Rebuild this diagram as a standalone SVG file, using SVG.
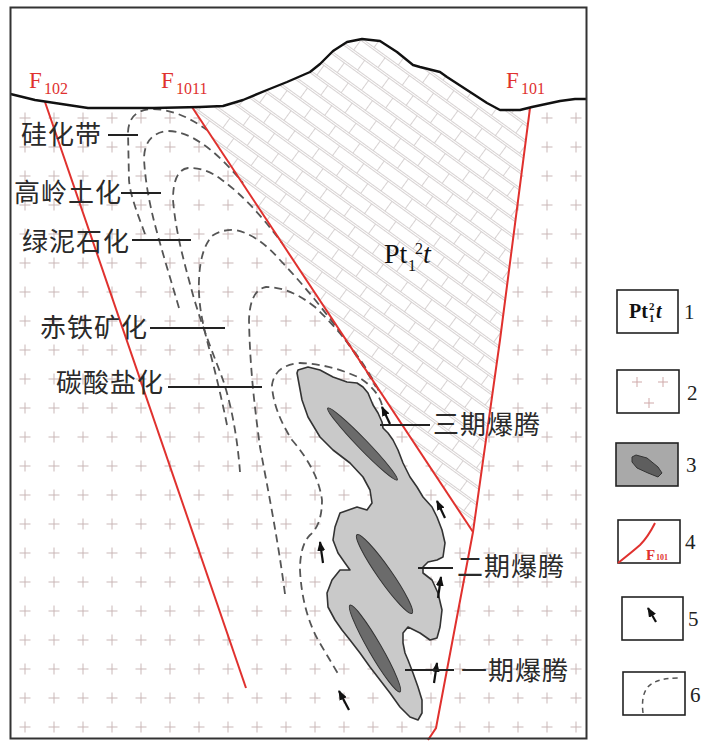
<svg xmlns="http://www.w3.org/2000/svg" width="716" height="744" viewBox="0 0 716 744">
<style>
.dash{fill:none;stroke:#555;stroke-width:1.8;stroke-dasharray:8 5}
.fault{fill:none;stroke:#e0312e;stroke-width:2}
.lead{stroke:#222;stroke-width:2}
.cn{font-family:"Noto Sans CJK SC","Noto Sans",sans-serif;font-size:26px;fill:#2a2a2a;letter-spacing:1px}
.fl{font-family:"Liberation Serif",serif;fill:#e0312e}
.box{fill:#fff;stroke:#222;stroke-width:1.6}
.num{font-family:"Liberation Serif",serif;font-size:21px;fill:#222}
.arr{stroke:#111;stroke-width:2.2;fill:none;marker-end:url(#ah)}
</style>
<defs>
<pattern id="cross" patternUnits="userSpaceOnUse" x="10.5" y="103.5" width="29" height="29">
<path d="M9,14.5H20M14.5,9V20" stroke="#c9b6b6" stroke-width="1"/>
</pattern>
<pattern id="brick" patternUnits="userSpaceOnUse" width="30" height="28" patternTransform="rotate(36)">
<path d="M0,0.5H30M0,2.5H30M0,14.5H30M0,16.5H30M0.5,2.5V14.5M15.5,16.5V28" stroke="#cdc7c7" stroke-width="0.8" fill="none"/>
</pattern>
<marker id="ah" viewBox="0 0 10 8" refX="9" refY="4" markerWidth="10" markerHeight="8" markerUnits="userSpaceOnUse" orient="auto">
<path d="M0,0L10,4L0,8Z" fill="#111"/>
</marker>
</defs>
<rect x="0" y="0" width="716" height="744" fill="#fff"/>

<g id="background">
<path d="M10.5,94L35,100L88,108L154,108L200,107L223,106L243,100L267,90L287,82L310,72L320,64L333,51L347,42L362,39L380,41L397,52L413,65L420,67L440,72L447,77L467,90L487,103L500,110L520,110L532,107L560,101L575,99L587,99L587,739L10.5,739Z" fill="url(#cross)"/>
</g>

<g id="pt-unit">
<path d="M192,107L200,107L223,106L243,100L267,90L287,82L310,72L320,64L333,51L347,42L362,39L380,41L397,52L413,65L420,67L440,72L447,77L467,90L487,103L500,110L520,110L530,108L500,340L473,532Z" fill="#fff"/>
<path d="M192,107L200,107L223,106L243,100L267,90L287,82L310,72L320,64L333,51L347,42L362,39L380,41L397,52L413,65L420,67L440,72L447,77L467,90L487,103L500,110L520,110L530,108L500,340L473,532Z" fill="url(#brick)"/>
<text x="384" y="263" font-family="Liberation Serif,serif" font-size="28" fill="#111">Pt</text>
<text x="408" y="271" font-family="Liberation Serif,serif" font-size="16" fill="#111">1</text>
<text x="415" y="254" font-family="Liberation Serif,serif" font-size="16" fill="#111">2</text>
<text x="423" y="263" font-family="Liberation Serif,serif" font-size="28" font-style="italic" fill="#111">t</text>
</g>

<g id="alteration-zones">
<path class="dash" d="M145,234C138,215 130,195 129,180L128,132Q129,110 152,109Q178,109 207,130"/>
<path class="dash" d="M179,308C170,277 160,245 153,217C149,200 145,180 144,158Q145,133 168,131Q200,131 243,183"/>
<path class="dash" d="M240,472C238,445 233,410 223,380C215,358 203,330 193,295C185,265 176,235 173,200Q173,170 188,168Q205,167 222,180Q250,200 282,243"/>
<path class="dash" d="M227,425C222,400 216,375 209,348C203,325 198,305 199,280Q200,250 212,236Q222,229 236,230Q258,235 280,260Q335,318 376,387"/>
<path class="dash" d="M285,594C278,540 268,490 260,447C255,410 250,370 249,320Q250,290 266,287Q290,287 315,307Q355,345 379,391"/>
<path class="dash" d="M382,405Q378,390 360,378Q330,364 300,363Q275,365 272,385Q273,410 292,440Q318,470 322,500Q322,525 310,535Q300,545 300,570Q302,610 318,640L340,677"/>
</g>

<g id="faults">
<path class="fault" d="M45,102L246,688"/>
<path class="fault" d="M192,107L473,532"/>
<path class="fault" d="M530,108L500,340L473,532L436,728L428,740"/>
<text class="fl" x="29" y="88" font-size="23">F</text>
<text class="fl" x="44" y="94" font-size="16">102</text>
<text class="fl" x="161" y="88" font-size="23">F</text>
<text class="fl" x="176" y="94" font-size="16">1011</text>
<text class="fl" x="506" y="88" font-size="23">F</text>
<text class="fl" x="521" y="94" font-size="16">101</text>
</g>

<g id="breccia-body">
<path d="M297,373L298,370L308,367L320,370L333,377L347,382L357,383L363,387L368,393L373,405L378,413L382,422L383,428L388,433L393,440L398,450L403,463L410,477L417,487L423,497L432,507L437,517L442,530L445,543L443,557L437,560L428,562L423,567L423,573L432,580L438,593L442,610L440,627L437,638L430,640L420,633L408,627L403,633L403,643L405,653L408,660L413,673L418,687L422,700L422,713L418,720L410,717L400,707L390,693L380,680L370,667L360,653L350,640L342,630L335,620L328,607L327,593L332,580L340,570L350,570L345,563L338,553L333,540L335,527L340,513L357,507L367,510L372,503L370,490L363,477L350,463L333,450L320,437L308,417L302,400Z" fill="#c9c9c9" stroke="#333" stroke-width="1.6" stroke-linejoin="round"/>
<ellipse cx="362.5" cy="444" rx="50" ry="5" transform="rotate(46 362.5 444)" fill="#6b6b6b" stroke="#333" stroke-width="1"/>
<ellipse cx="384.5" cy="574" rx="48" ry="7" transform="rotate(55 384.5 574)" fill="#6b6b6b" stroke="#333" stroke-width="1"/>
<ellipse cx="375" cy="648.5" rx="50" ry="6.5" transform="rotate(60 375 648.5)" fill="#6b6b6b" stroke="#333" stroke-width="1"/>
</g>

<g id="flow-arrows">
<path class="arr" d="M390,424L382,407"/>
<path class="arr" d="M445,518L437,501"/>
<path class="arr" d="M323,563L320,542"/>
<path class="arr" d="M438,598L441,577"/>
<path class="arr" d="M434,683L437,663"/>
<path class="arr" d="M349,710L339,691"/>
</g>

<g id="labels">
<line class="lead" x1="108" y1="135" x2="138" y2="135"/>
<line class="lead" x1="121" y1="193" x2="161" y2="193"/>
<line class="lead" x1="132" y1="240" x2="191" y2="240"/>
<line class="lead" x1="150" y1="328" x2="225" y2="328"/>
<line class="lead" x1="168" y1="387" x2="262" y2="387"/>
<line class="lead" x1="380" y1="425" x2="430" y2="425"/>
<line class="lead" x1="418" y1="568" x2="453" y2="568"/>
<line class="lead" x1="405" y1="670" x2="454" y2="670"/>
<text class="cn" x="21" y="144">硅化带</text>
<text class="cn" x="14" y="202">高岭土化</text>
<text class="cn" x="22" y="251">绿泥石化</text>
<text class="cn" x="40" y="337">赤铁矿化</text>
<text class="cn" x="56" y="392">碳酸盐化</text>
<text class="cn" x="433" y="434">三期爆腾</text>
<text class="cn" x="457" y="576">二期爆腾</text>
<text class="cn" x="461" y="680">一期爆腾</text>
</g>

<g id="surface">
<path d="M10.5,94L35,100L88,108L154,108L200,107L223,106L243,100L267,90L287,82L310,72L320,64L333,51L347,42L362,39L380,41L397,52L413,65L420,67L440,72L447,77L467,90L487,103L500,110L520,110L532,107L560,101L575,99L587,99" fill="none" stroke="#111" stroke-width="2.4" stroke-linejoin="round"/>
</g>

<rect id="frame" x="10.5" y="7.5" width="576" height="731" fill="none" stroke="#333" stroke-width="2"/>

<g id="legend-1">
<rect class="box" x="617" y="290" width="61" height="43"/>
<text x="629" y="318" font-family="Liberation Serif,serif" font-size="20" font-weight="bold" fill="#111">Pt</text>
<text x="649" y="322" font-family="Liberation Serif,serif" font-size="11" font-weight="bold" fill="#111">1</text>
<text x="649" y="310" font-family="Liberation Serif,serif" font-size="11" font-weight="bold" fill="#111">2</text>
<text x="656" y="318" font-family="Liberation Serif,serif" font-size="20" font-style="italic" font-weight="bold" fill="#111">t</text>
<text class="num" x="684" y="319">1</text>
</g>
<g id="legend-2">
<rect class="box" x="617" y="370" width="62" height="43"/>
<path d="M632,382H642M637,377V387M658,382H668M663,377V387M644,403H654M649,398V408" stroke="#cfa9a9" stroke-width="1"/>
<text class="num" x="687" y="400">2</text>
</g>
<g id="legend-3">
<rect x="616" y="443" width="62" height="43" fill="#a9a9a9" stroke="#222" stroke-width="1.6"/>
<path d="M632,457L636,455L647,458L658,467L662,473L658,477L648,473L637,468L632,462Z" fill="#5e5e5e" stroke="#333" stroke-width="1"/>
<text class="num" x="686" y="472">3</text>
</g>
<g id="legend-4">
<rect class="box" x="618" y="520" width="62" height="43"/>
<path d="M618,563Q632,552 640,545Q648,537 655,523" fill="none" stroke="#e0312e" stroke-width="2"/>
<text x="646" y="560" font-family="Liberation Serif,serif" font-size="15" font-weight="bold" fill="#e0312e">F</text>
<text x="656" y="560" font-family="Liberation Serif,serif" font-size="8" font-weight="bold" fill="#e0312e">101</text>
<text class="num" x="685" y="549">4</text>
</g>
<g id="legend-5">
<rect class="box" x="622" y="597" width="61" height="43"/>
<path class="arr" d="M656,622L648,608"/>
<text class="num" x="688" y="626">5</text>
</g>
<g id="legend-6">
<rect class="box" x="623" y="672" width="62" height="43"/>
<path d="M643,713Q640,688 655,682Q664,678 678,678" fill="none" stroke="#555" stroke-width="1.5" stroke-dasharray="5 4"/>
<text class="num" x="690" y="702">6</text>
</g>
</svg>
